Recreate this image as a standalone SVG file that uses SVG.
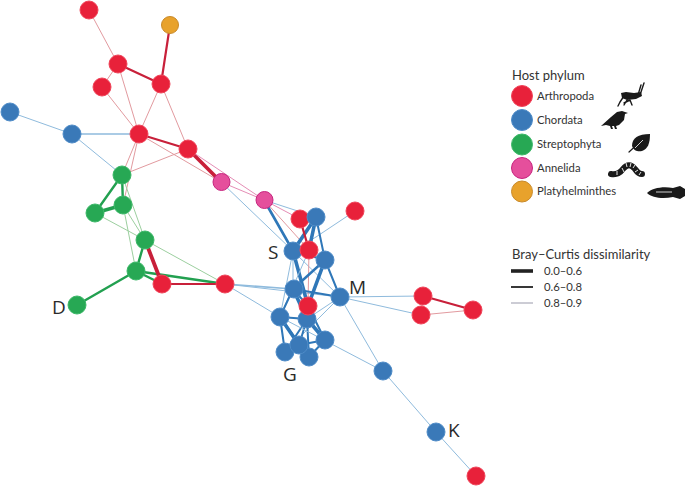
<svg xmlns="http://www.w3.org/2000/svg" width="685" height="487" viewBox="0 0 685 487">
<style>
text{font-family:"Lato","Liberation Sans",sans-serif;fill:#333}
.lt{font-size:11.300px}.h{font-size:13px}.big{font-family:"Open Sans","Liberation Sans",sans-serif;font-size:19px;fill:#2a2a2a}
.ar{fill:#e8213a;stroke:#f0455a}.ch{fill:#3a79b8;stroke:#4f8cc8}.st{fill:#27a854;stroke:#3cb868}.an{fill:#e54f9c;stroke:#c7257f}.pl{fill:#e8a22c;stroke:#c98a2a}
#edges line{stroke-linecap:round}
.b1{stroke:#2f77b8;stroke-width:3.6}.b2{stroke:#2f77b8;stroke-width:2}.b3{stroke:#8fbbdd;stroke-width:1}
.r1{stroke:#c8203a;stroke-width:3.8}.r2{stroke:#c8203a;stroke-width:2.2}.r3{stroke:#e29a9f;stroke-width:1}
.g2{stroke:#22a050;stroke-width:2.4}.g3{stroke:#9ccf9f;stroke-width:1}
.p3{stroke:#e58db5;stroke-width:1}
.ic{fill:#1a1a1a}
.ics{fill:none;stroke:#1a1a1a;stroke-linecap:round;stroke-linejoin:round}
</style>
<g id="edges">
<line class="r3" x1="89" y1="10" x2="118" y2="64"/>
<line class="r3" x1="118" y1="64" x2="102" y2="87"/>
<line class="r3" x1="118" y1="64" x2="139" y2="134"/>
<line class="r3" x1="102" y1="87" x2="139" y2="134"/>
<line class="r3" x1="161" y1="84" x2="139" y2="134"/>
<line class="r3" x1="161" y1="84" x2="188" y2="149"/>
<line class="r2" x1="118" y1="64" x2="161" y2="84"/>
<line class="r2" x1="170" y1="25" x2="161" y2="84"/>
<line class="r2" x1="139" y1="134" x2="188" y2="149"/>
<line class="r3" x1="139" y1="134" x2="122" y2="175"/>
<line class="r3" x1="139" y1="134" x2="123" y2="205"/>
<line class="r3" x1="188" y1="149" x2="122" y2="175"/>
<line class="r3" x1="139" y1="134" x2="221" y2="182"/>
<line class="r1" x1="188" y1="149" x2="221" y2="182"/>
<line class="p3" x1="188" y1="149" x2="264" y2="200"/>
<line class="p3" x1="221" y1="182" x2="264" y2="200"/>
<line class="b3" x1="10" y1="112" x2="72" y2="134"/>
<line class="b3" x1="72" y1="134" x2="139" y2="134" style="stroke-width:1.5"/>
<line class="b3" x1="72" y1="134" x2="122" y2="175"/>
<line class="b3" x1="221" y1="182" x2="293" y2="251"/>
<line class="b3" x1="264" y1="200" x2="316" y2="217"/>
<line class="b2" x1="264" y1="200" x2="293" y2="251" style="stroke-width:2.6"/>
<line class="p3" x1="264" y1="200" x2="300" y2="219"/>
<line class="r3" x1="264" y1="200" x2="309" y2="250"/>
<line class="g2" x1="122" y1="175" x2="95" y2="213"/>
<line class="g2" x1="122" y1="175" x2="123" y2="205"/>
<line class="g2" x1="95" y1="213" x2="123" y2="205" style="stroke-width:3.4"/>
<line class="g3" x1="122" y1="175" x2="145" y2="240"/>
<line class="g3" x1="123" y1="205" x2="145" y2="240"/>
<line class="g3" x1="123" y1="205" x2="136" y2="271"/>
<line class="g3" x1="95" y1="213" x2="145" y2="240"/>
<line class="g3" x1="145" y1="240" x2="225" y2="284"/>
<line class="g2" x1="145" y1="240" x2="136" y2="271"/>
<line class="g2" x1="136" y1="271" x2="77" y2="305"/>
<line class="g2" x1="136" y1="271" x2="225" y2="284"/>
<line class="g2" x1="136" y1="271" x2="162" y2="284"/>
<line class="r1" x1="145" y1="240" x2="162" y2="284"/>
<line class="r2" x1="162" y1="284" x2="225" y2="284"/>
<line class="b3" x1="225" y1="284" x2="293" y2="289" style="stroke-width:1.6"/>
<line class="b3" x1="225" y1="284" x2="340" y2="297"/>
<line class="b3" x1="225" y1="284" x2="280" y2="317"/>
<line class="b3" x1="355" y1="211" x2="316" y2="237"/>
<line class="b3" x1="316" y1="237" x2="293" y2="251"/>
<line class="b1" x1="316" y1="217" x2="293" y2="251"/>
<line class="b1" x1="316" y1="217" x2="309" y2="250"/>
<line class="b2" x1="316" y1="217" x2="325" y2="260"/>
<line class="r2" x1="300" y1="219" x2="309" y2="250"/>
<line class="b1" x1="293" y1="251" x2="308" y2="306"/>
<line class="b2" x1="293" y1="251" x2="325" y2="260"/>
<line class="b3" x1="293" y1="251" x2="293" y2="289"/>
<line class="b3" x1="293" y1="251" x2="280" y2="317"/>
<line class="b3" x1="293" y1="251" x2="340" y2="297"/>
<line class="r3" x1="309" y1="250" x2="308" y2="306"/>
<line class="b1" x1="325" y1="260" x2="293" y2="289" style="stroke-width:2.4"/>
<line class="b1" x1="325" y1="260" x2="308" y2="306"/>
<line class="b2" x1="325" y1="260" x2="340" y2="297"/>
<line class="b3" x1="309" y1="250" x2="280" y2="317"/>
<line class="b2" x1="293" y1="289" x2="340" y2="297"/>
<line class="b2" x1="293" y1="289" x2="280" y2="317"/>
<line class="b1" x1="293" y1="289" x2="307" y2="319"/>
<line class="b2" x1="293" y1="289" x2="308" y2="306"/>
<line class="b3" x1="340" y1="297" x2="307" y2="319"/>
<line class="b3" x1="340" y1="297" x2="285" y2="352"/>
<line class="b3" x1="340" y1="297" x2="423" y2="296"/>
<line class="b3" x1="340" y1="297" x2="421" y2="315"/>
<line class="b3" x1="340" y1="297" x2="383" y2="371"/>
<line class="b2" x1="280" y1="317" x2="307" y2="319"/>
<line class="b1" x1="280" y1="317" x2="299" y2="345"/>
<line class="b2" x1="280" y1="317" x2="285" y2="352"/>
<line class="b2" x1="280" y1="317" x2="309" y2="357"/>
<line class="b1" x1="307" y1="319" x2="325" y2="340"/>
<line class="b2" x1="307" y1="319" x2="299" y2="345"/>
<line class="b2" x1="307" y1="319" x2="285" y2="352"/>
<line class="b2" x1="307" y1="319" x2="309" y2="357"/>
<line class="b2" x1="308" y1="306" x2="325" y2="340"/>
<line class="b2" x1="325" y1="340" x2="299" y2="345"/>
<line class="b2" x1="325" y1="340" x2="309" y2="357"/>
<line class="b1" x1="299" y1="345" x2="285" y2="352"/>
<line class="b1" x1="299" y1="345" x2="309" y2="357"/>
<line class="b3" x1="280" y1="317" x2="383" y2="371"/>
<line class="b3" x1="383" y1="371" x2="436" y2="432"/>
<line class="b3" x1="436" y1="432" x2="476" y2="476"/>
<line class="r2" x1="423" y1="296" x2="473" y2="310"/>
<line class="r3" x1="423" y1="296" x2="421" y2="315"/>
<line class="r3" x1="421" y1="315" x2="473" y2="310"/>
</g>
<g id="n1"><circle class="ar" cx="89" cy="10" r="9"/></g>
<g id="n2"><circle class="pl" cx="170" cy="25" r="8.500"/></g>
<g id="n3"><circle class="ar" cx="118" cy="64" r="9"/></g>
<g id="n4"><circle class="ar" cx="161" cy="84" r="9"/></g>
<g id="n5"><circle class="ar" cx="102" cy="87" r="9"/></g>
<g id="n6"><circle class="ar" cx="139" cy="134" r="9"/></g>
<g id="n7"><circle class="ar" cx="188" cy="149" r="9"/></g>
<g id="n8"><circle class="ch" cx="10" cy="112" r="9"/></g>
<g id="n9"><circle class="ch" cx="72" cy="134" r="9"/></g>
<g id="n10"><circle class="an" cx="221.500" cy="182" r="8.500"/></g>
<g id="n11"><circle class="an" cx="264.500" cy="200" r="8.500"/></g>
<g id="n12"><circle class="st" cx="122" cy="175" r="9"/></g>
<g id="n13"><circle class="st" cx="95" cy="213" r="9"/></g>
<g id="n14"><circle class="st" cx="123" cy="205" r="9"/></g>
<g id="n15"><circle class="st" cx="145" cy="240" r="9"/></g>
<g id="n16"><circle class="st" cx="136" cy="271" r="9"/></g>
<g id="n17"><circle class="st" cx="77" cy="305" r="9"/></g>
<g id="n18"><circle class="ar" cx="162" cy="284" r="9"/></g>
<g id="n19"><circle class="ar" cx="225" cy="284" r="9"/></g>
<g id="n21"><circle class="ar" cx="300" cy="219" r="9"/></g>
<g id="n20"><circle class="ch" cx="316" cy="217" r="9"/></g>
<g id="n22"><circle class="ar" cx="355" cy="211" r="9"/></g>
<g id="n23"><circle class="ch" cx="293" cy="251" r="9"/></g>
<g id="n24"><circle class="ch" cx="325" cy="260" r="9"/></g>
<g id="n25"><circle class="ar" cx="309" cy="250" r="9"/></g>
<g id="n26"><circle class="ch" cx="294" cy="289" r="9"/></g>
<g id="n27"><circle class="ch" cx="340" cy="297" r="9"/></g>
<g id="n28"><circle class="ch" cx="280" cy="317" r="9"/></g>
<g id="n29"><circle class="ch" cx="307" cy="319" r="9"/></g>
<g id="n30"><circle class="ar" cx="308" cy="306" r="9"/></g>
<g id="n31"><circle class="ch" cx="325" cy="340" r="9"/></g>
<g id="n32"><circle class="ch" cx="285" cy="352" r="9"/></g>
<g id="n34"><circle class="ch" cx="309" cy="357" r="9"/></g>
<g id="n33"><circle class="ch" cx="299" cy="345" r="9"/></g>
<g id="n35"><circle class="ar" cx="423" cy="296" r="9"/></g>
<g id="n36"><circle class="ar" cx="421" cy="315" r="9"/></g>
<g id="n37"><circle class="ar" cx="473" cy="310" r="9"/></g>
<g id="n38"><circle class="ch" cx="383" cy="371" r="9"/></g>
<g id="n39"><circle class="ch" cx="436" cy="432" r="9"/></g>
<g id="n40"><circle class="ar" cx="476" cy="476" r="9"/></g>
<text class="big" x="52" y="314">D</text>
<text class="big" x="268" y="259">S</text>
<text class="big" x="349" y="294">M</text>
<text class="big" x="283" y="381">G</text>
<text class="big" x="448" y="437">K</text>
<g id="legend-phylum">
<text class="h" x="512" y="80">Host phylum</text>
<circle class="ar" cx="522" cy="96" r="10.500"/><text class="lt" x="537" y="100">Arthropoda</text>
<circle class="ch" cx="522" cy="120" r="10.500"/><text class="lt" x="537" y="124">Chordata</text>
<circle class="st" cx="522" cy="144.500" r="10.500"/><text class="lt" x="537" y="148">Streptophyta</text>
<circle class="an" cx="522" cy="168" r="10.500"/><text class="lt" x="537" y="172">Annelida</text>
<circle class="pl" cx="522" cy="191.500" r="10.500"/><text class="lt" x="537" y="195">Platyhelminthes</text>
<g id="icon-grasshopper">
<path class="ic" d="M621 93l5-1 8 1 7-1 1 4-6 3-9 1-5-2z"/>
<path class="ics" stroke-width="1.400" d="M624 96l-4 6-2 4M624 103l6-3 2 5M627 100l-3 5M638 95l3-10M640 95l4-12"/>
</g>
<path class="ic" d="M601 126l10-9 6-5 5-1 3 1 3 1-3 1-1 6-5 5-3 1 1 3-2 0-1-3-2 0 1 3-2 0-1-3-4-1z"/>
<g id="icon-leaf">
<path class="ic" d="M632 146c0-8 6-12 18-12 0 9-2 15-8 17-4 1-8 0-10-5z"/>
<path class="ics" stroke-width="1.200" d="M629 152l14-13"/>
<path fill="none" stroke="#fff" stroke-width=".8" d="M635 148l8-8"/>
</g>
<g id="icon-worm">
<path class="ics" stroke-width="6" d="M611 174c5 1 9-1 12-5 4-5 8-5 12 0 2 3 4 5 7 5"/>
<path fill="none" stroke="#fff" stroke-width=".9" d="M617 171v4M622 168l2 4M626 163l1 4M631 163l-1 4M635 165l-2 3M638 170l-3 2M641 172l-2 3"/>
</g>
<g id="icon-flatworm">
<path class="ic" d="M647 193c5-5 16-7 26-5l7-2 5 3v7l-5 3-7-2c-10 2-21 1-26-4z"/>
<path fill="none" stroke="#fff" stroke-width=".8" d="M656 192h16"/>
</g>
</g>
<g id="legend-bc">
<text class="h" x="512" y="259">Bray–Curtis dissimilarity</text>
<line x1="511" y1="271" x2="533" y2="271" stroke="#222" stroke-width="3.600"/><text class="lt" x="544" y="275">0.0–0.6</text>
<line x1="511" y1="287" x2="533" y2="287" stroke="#222" stroke-width="1.800"/><text class="lt" x="544" y="291">0.6–0.8</text>
<line x1="511" y1="303" x2="533" y2="303" stroke="#99a" stroke-width="1"/><text class="lt" x="544" y="307">0.8–0.9</text>
</g>
</svg>
